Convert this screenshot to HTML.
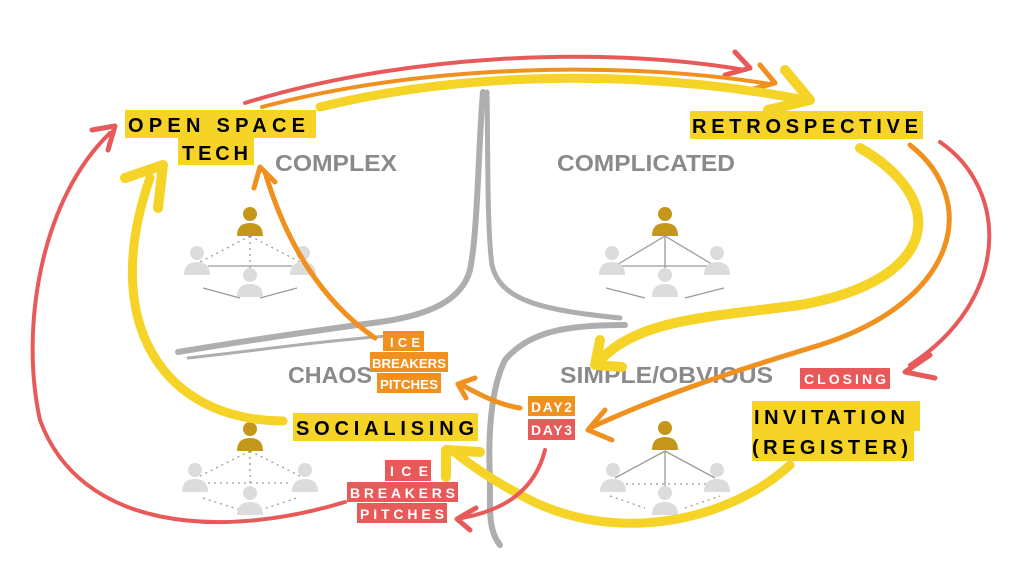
<!DOCTYPE html>
<html><head><meta charset="utf-8"><style>
html,body{margin:0;padding:0;background:#fff;}
svg{display:block}
.lbl{font-family:"Liberation Sans",sans-serif;font-weight:bold;}
</style></head><body>
<svg width="1023" height="566" viewBox="0 0 1023 566" xmlns="http://www.w3.org/2000/svg">
<defs>
<g id="p"><circle cx="0" cy="7" r="7"/><path d="M-13,29 Q-13,16 0,16 Q13,16 13,29 Z"/></g>
</defs>
<!-- gray cross -->
<g fill="none" stroke="#9a9a9a" stroke-linecap="round" opacity="0.8">
<path d="M483,92 C478,150 478,230 470,270 C462,300 430,315 380,322 C320,330 250,340 178,352" stroke-width="6"/>
<path d="M487,92 C488,150 487,230 492,265 C500,300 540,310 620,318" stroke-width="5"/>
<path d="M625,325 C570,325 530,330 505,360 C490,390 488,440 490,480 C490,510 488,530 500,545" stroke-width="6"/>
<path d="M188,358 C260,350 330,340 400,335" stroke-width="3"/>
</g>
<!-- people groups -->
<g stroke="#9a9a9a" stroke-width="1.3" fill="none">
 <g stroke-dasharray="2,4"><path d="M250,236 L200,262 M250,236 L300,262 M250,236 L250,268"/></g>
 <path d="M208,266 L292,266 M203,288 L240,298 M260,298 L297,288"/>
 <path d="M665,236 L615,266 M665,236 L715,266 M665,236 L665,268 M610,266 L720,266 M606,288 L645,298 M685,298 L724,288"/>
 <g stroke-dasharray="2,4"><path d="M250,451 L200,476 M250,451 L300,476 M250,451 L250,483 M208,483 L292,483 M203,498 L240,510 M260,510 L297,498"/></g>
 <path d="M665,451 L615,478 M665,451 L715,478 M665,451 L665,486"/>
 <g stroke-dasharray="2,4"><path d="M620,484 L710,484 M610,496 L645,508 M685,508 L720,496"/></g>
</g>
<g fill="#dcdcdc">
 <use href="#p" x="197" y="246"/><use href="#p" x="303" y="246"/><use href="#p" x="250" y="268"/>
 <use href="#p" x="612" y="246"/><use href="#p" x="717" y="246"/><use href="#p" x="665" y="268"/>
 <use href="#p" x="195" y="463"/><use href="#p" x="305" y="463"/><use href="#p" x="250" y="486"/>
 <use href="#p" x="613" y="463"/><use href="#p" x="717" y="463"/><use href="#p" x="665" y="486"/>
</g>
<g fill="#c4961a">
 <use href="#p" x="250" y="207"/><use href="#p" x="665" y="207"/>
 <use href="#p" x="250" y="422"/><use href="#p" x="665" y="421"/>
</g>
<!-- quadrant labels -->
<g class="lbl" fill="#8a8a8a" font-size="23">
<text x="275" y="171" textLength="122" lengthAdjust="spacingAndGlyphs">COMPLEX</text>
<text x="557" y="171" textLength="178" lengthAdjust="spacingAndGlyphs">COMPLICATED</text>
<text x="288" y="383" textLength="84" lengthAdjust="spacingAndGlyphs">CHAOS</text>
<text x="560" y="383" textLength="213" lengthAdjust="spacingAndGlyphs">SIMPLE/OBVIOUS</text>
</g>
<!-- arrows -->
<g fill="none" stroke-linecap="round" stroke-linejoin="round">
<path d="M245,103 C400,55 600,45 745,70" stroke="#e85a5a" stroke-width="4"/>
<path d="M735,52 L750,68 L725,75" stroke="#e85a5a" stroke-width="5"/>
<path d="M262,107 C420,65 620,60 770,84" stroke="#f0901e" stroke-width="4"/>
<path d="M760,65 L775,83 L750,90" stroke="#f0901e" stroke-width="5"/>
<path d="M320,107 C470,70 650,70 805,100" stroke="#f5d327" stroke-width="9"/>
<path d="M785,70 L810,100 L768,110" stroke="#f5d327" stroke-width="10"/>
<path d="M940,142 C1010,190 1010,300 910,365" stroke="#e85a5a" stroke-width="4"/>
<path d="M930,355 L905,372 L935,378" stroke="#e85a5a" stroke-width="5"/>
<path d="M910,145 C980,200 960,300 820,345 C720,375 650,400 590,428" stroke="#f0901e" stroke-width="5"/>
<path d="M605,410 L588,430 L612,440" stroke="#f0901e" stroke-width="5"/>
<path d="M860,148 C950,200 940,280 800,305 C700,318 640,320 600,360" stroke="#f5d327" stroke-width="10"/>
<path d="M600,340 L595,365 L622,367" stroke="#f5d327" stroke-width="10"/>
<path d="M520,408 C500,405 480,395 462,385" stroke="#f0901e" stroke-width="5"/>
<path d="M466,398 L458,384 L475,378" stroke="#f0901e" stroke-width="5"/>
<path d="M375,338 C320,300 285,240 265,172" stroke="#f0901e" stroke-width="5"/>
<path d="M254,188 L260,167 L275,182" stroke="#f0901e" stroke-width="5"/>
<path d="M283,421 C160,420 100,320 150,178" stroke="#f5d327" stroke-width="9"/>
<path d="M125,178 L163,165 L158,208" stroke="#f5d327" stroke-width="10"/>
<path d="M345,502 C220,540 80,530 40,420 C20,330 40,200 110,133" stroke="#e85a5a" stroke-width="4"/>
<path d="M92,130 L115,126 L108,150" stroke="#e85a5a" stroke-width="5"/>
<path d="M790,465 C730,520 620,545 530,500 C495,482 470,465 452,450" stroke="#f5d327" stroke-width="9"/>
<path d="M446,477 L446,450 L480,452" stroke="#f5d327" stroke-width="10"/>
<path d="M545,450 C535,490 505,510 462,518" stroke="#e85a5a" stroke-width="4"/>
<path d="M476,508 L457,519 L470,530" stroke="#e85a5a" stroke-width="5"/>
</g>
<!-- labels -->
<g class="lbl">
<rect x="125" y="110" width="191" height="28" fill="#f5d327"/>
<rect x="178" y="138" width="76" height="27" fill="#f5d327"/>
<text x="128" y="132" font-size="20" textLength="177" lengthAdjust="spacing" fill="#000">OPEN SPACE</text>
<text x="182" y="160" font-size="20" textLength="66" lengthAdjust="spacing" fill="#000">TECH</text>
<rect x="690" y="111" width="233" height="28" fill="#f5d327"/>
<text x="692" y="133" font-size="20" textLength="226" lengthAdjust="spacing" fill="#000">RETROSPECTIVE</text>
<rect x="293" y="413" width="185" height="28" fill="#f5d327"/>
<text x="296" y="435" font-size="20" textLength="178" lengthAdjust="spacing" fill="#000">SOCIALISING</text>
<rect x="752" y="401" width="168" height="30" fill="#f5d327"/>
<rect x="752" y="431" width="162" height="30" fill="#f5d327"/>
<text x="754" y="424" font-size="20" textLength="151" lengthAdjust="spacing" fill="#000">INVITATION</text>
<text x="752" y="454" font-size="20" textLength="156" lengthAdjust="spacing" fill="#000">(REGISTER)</text>
<rect x="800" y="368" width="90" height="21" fill="#e85a5a"/>
<text x="804" y="384" font-size="14" textLength="82" lengthAdjust="spacing" fill="#fff">CLOSING</text>
<rect x="528" y="396" width="47" height="20" fill="#f0901e"/>
<text x="531" y="412" font-size="14" textLength="41" lengthAdjust="spacing" fill="#fff">DAY2</text>
<rect x="528" y="419" width="47" height="21" fill="#e85a5a"/>
<text x="531" y="435" font-size="14" textLength="41" lengthAdjust="spacing" fill="#fff">DAY3</text>
<rect x="383" y="331" width="41" height="20" fill="#f0901e"/>
<rect x="370" y="352" width="78" height="20" fill="#f0901e"/>
<rect x="377" y="373" width="64" height="20" fill="#f0901e"/>
<text x="390" y="347" font-size="13" textLength="30" lengthAdjust="spacing" fill="#fff">ICE</text>
<text x="372" y="368" font-size="13" textLength="74" lengthAdjust="spacingAndGlyphs" fill="#fff">BREAKERS</text>
<text x="380" y="389" font-size="13" textLength="58" lengthAdjust="spacingAndGlyphs" fill="#fff">PITCHES</text>
<rect x="385" y="460" width="46" height="21" fill="#e85a5a"/>
<rect x="347" y="482" width="111" height="20" fill="#e85a5a"/>
<rect x="357" y="503" width="90" height="20" fill="#e85a5a"/>
<text x="390" y="476" font-size="14" textLength="38" lengthAdjust="spacing" fill="#fff">ICE</text>
<text x="350" y="498" font-size="14" textLength="105" lengthAdjust="spacing" fill="#fff">BREAKERS</text>
<text x="360" y="519" font-size="14" textLength="84" lengthAdjust="spacing" fill="#fff">PITCHES</text>
</g>
</svg>
</body></html>
